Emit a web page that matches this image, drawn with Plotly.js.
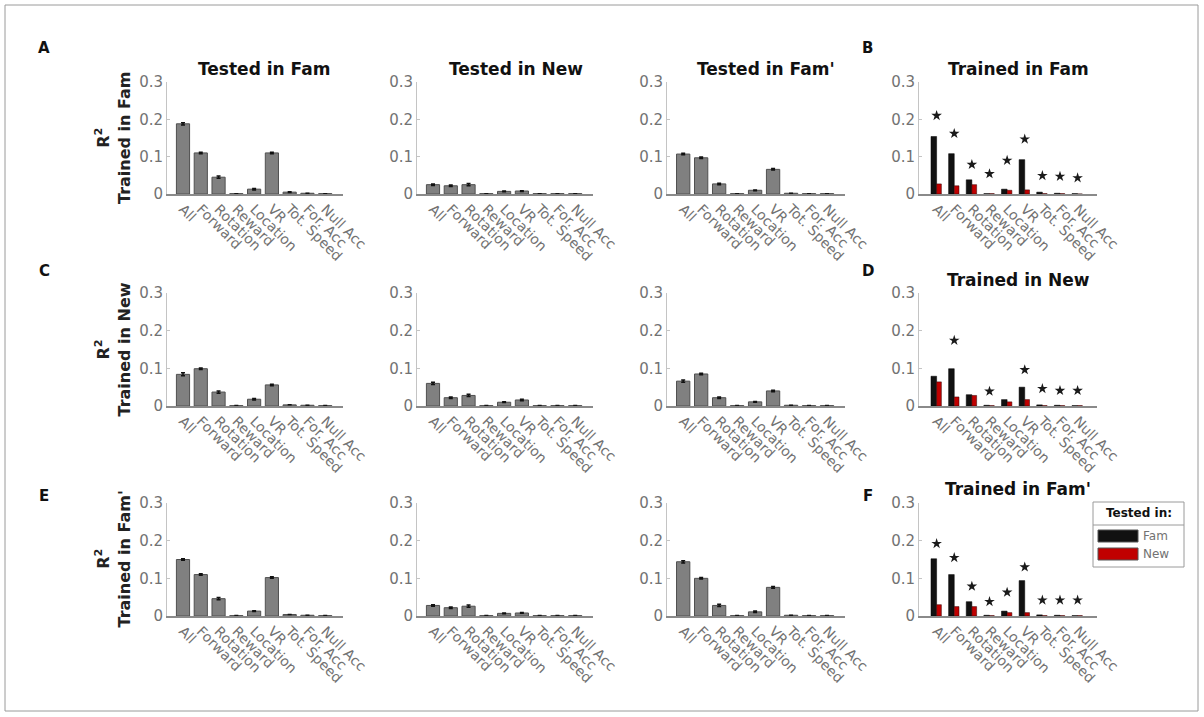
<!DOCTYPE html>
<html>
<head>
<meta charset="utf-8">
<script src="https://cdn.plot.ly/plotly-3.0.1.min.js"></script>
<style>
  html, body { margin: 0; padding: 0; background: #fff; }
  #chart { width: 1204px; height: 717px; }
</style>
</head>
<body>
<div id="chart"></div>
<script>
// Predictor sets used by the encoding models
const predictors = ['All', 'Forward', 'Rotation', 'Reward', 'Location', 'VR', 'Tot. Speed', 'For. Acc', 'Null Acc'];

// R² by training environment (rows) and testing environment (columns)
const trainFam_testFam   = [0.188, 0.110, 0.045, 0.001, 0.013, 0.110, 0.005, 0.002, 0.001];
const trainFam_testNew   = [0.025, 0.022, 0.025, 0.001, 0.007, 0.008, 0.001, 0.001, 0.001];
const trainFam_testFamP  = [0.107, 0.097, 0.027, 0.001, 0.010, 0.066, 0.002, 0.001, 0.001];
const trainNew_testFam   = [0.084, 0.099, 0.037, 0.001, 0.018, 0.056, 0.003, 0.002, 0.001];
const trainNew_testNew   = [0.060, 0.022, 0.028, 0.001, 0.010, 0.016, 0.001, 0.001, 0.001];
const trainNew_testFamP  = [0.066, 0.085, 0.022, 0.001, 0.011, 0.040, 0.002, 0.001, 0.001];
const trainFamP_testFam  = [0.150, 0.110, 0.046, 0.001, 0.013, 0.102, 0.004, 0.002, 0.001];
const trainFamP_testNew  = [0.028, 0.022, 0.026, 0.001, 0.007, 0.008, 0.001, 0.001, 0.001];
const trainFamP_testFamP = [0.144, 0.100, 0.028, 0.001, 0.011, 0.076, 0.002, 0.001, 0.001];

// Standard errors for the grey bars
const semFam_Fam   = [0.003, 0.002, 0.003, 0.000, 0.002, 0.002, 0.001, 0.000, 0.000];
const semFam_New   = [0.002, 0.002, 0.003, 0.000, 0.001, 0.001, 0.000, 0.000, 0.000];
const semFam_FamP  = [0.002, 0.002, 0.002, 0.000, 0.001, 0.002, 0.000, 0.000, 0.000];
const semNew_Fam   = [0.004, 0.002, 0.003, 0.000, 0.002, 0.002, 0.000, 0.000, 0.000];
const semNew_New   = [0.003, 0.002, 0.003, 0.000, 0.001, 0.002, 0.000, 0.000, 0.000];
const semNew_FamP  = [0.003, 0.002, 0.002, 0.000, 0.001, 0.002, 0.000, 0.000, 0.000];
const semFamP_Fam  = [0.002, 0.002, 0.003, 0.000, 0.001, 0.002, 0.000, 0.000, 0.000];
const semFamP_New  = [0.002, 0.002, 0.003, 0.000, 0.001, 0.001, 0.000, 0.000, 0.000];
const semFamP_FamP = [0.003, 0.002, 0.003, 0.000, 0.002, 0.002, 0.000, 0.000, 0.000];

// Comparison panels: tested in Fam (black) vs tested in New (red)
const cmpFam_testFam  = [0.154, 0.108, 0.038, 0.001, 0.013, 0.092, 0.005, 0.002, 0.001];
const cmpFam_testNew  = [0.027, 0.022, 0.025, 0.001, 0.010, 0.011, 0.001, 0.001, 0.000];
const cmpNew_testFam  = [0.079, 0.099, 0.030, 0.002, 0.017, 0.050, 0.003, 0.002, 0.001];
const cmpNew_testNew  = [0.064, 0.024, 0.028, 0.001, 0.011, 0.017, 0.001, 0.001, 0.001];
const cmpFamP_testFam = [0.152, 0.110, 0.038, 0.002, 0.013, 0.094, 0.003, 0.002, 0.001];
const cmpFamP_testNew = [0.030, 0.025, 0.025, 0.001, 0.009, 0.009, 0.001, 0.001, 0.001];

// Significance stars (predictor and height)
const starsFam_x  = ['All', 'Forward', 'Rotation', 'Reward', 'Location', 'VR', 'Tot. Speed', 'For. Acc', 'Null Acc'];
const starsFam_y  = [0.210, 0.162, 0.079, 0.054, 0.090, 0.147, 0.049, 0.047, 0.043];
const starsNew_x  = ['Forward', 'Reward', 'VR', 'Tot. Speed', 'For. Acc', 'Null Acc'];
const starsNew_y  = [0.174, 0.039, 0.096, 0.046, 0.041, 0.041];
const starsFamP_x = ['All', 'Forward', 'Rotation', 'Reward', 'Location', 'VR', 'Tot. Speed', 'For. Acc', 'Null Acc'];
const starsFamP_y = [0.192, 0.155, 0.079, 0.038, 0.063, 0.130, 0.042, 0.042, 0.042];

const yTicks = [0, 0.1, 0.2, 0.3];
const yTickText = ['0', '0.1', '0.2', '0.3'];

const colTitles = ['Tested in Fam', 'Tested in New', "Tested in Fam'"];
const rowTitles = ['Trained in Fam', 'Trained in New', "Trained in Fam'"];
const panelLetters = [['A', 'B'], ['C', 'D'], ['E', 'F']];
const legendTitle = 'Tested in:';
const legendNames = ['Fam', 'New'];

// ---- drawing ----
const W = 1204, H = 717;
const fx = px => px / W;
const fy = py => 1 - py / H;

const colPx = [[167, 343], [417, 593], [667, 845], [919, 1097]];
const rowPx = [[82, 194], [293, 406], [503, 616]];

const FONT = 'DejaVu Sans, Verdana, sans-serif';
const GREY_TXT = '#727272';

const greyData = [
  [trainFam_testFam, trainFam_testNew, trainFam_testFamP],
  [trainNew_testFam, trainNew_testNew, trainNew_testFamP],
  [trainFamP_testFam, trainFamP_testNew, trainFamP_testFamP]
];
const greySem = [
  [semFam_Fam, semFam_New, semFam_FamP],
  [semNew_Fam, semNew_New, semNew_FamP],
  [semFamP_Fam, semFamP_New, semFamP_FamP]
];
const cmpData = [
  [cmpFam_testFam, cmpFam_testNew],
  [cmpNew_testFam, cmpNew_testNew],
  [cmpFamP_testFam, cmpFamP_testNew]
];
const starData = [
  [starsFam_x, starsFam_y],
  [starsNew_x, starsNew_y],
  [starsFamP_x, starsFamP_y]
];

const traces = [];
const layout = {
  width: W, height: H,
  margin: {l: 0, r: 0, t: 0, b: 0},
  paper_bgcolor: '#ffffff',
  plot_bgcolor: 'rgba(0,0,0,0)',
  showlegend: false,
  barmode: 'overlay',
  font: {family: FONT, color: GREY_TXT},
  annotations: [],
  shapes: []
};

function axName(n, letter) { return letter + (n === 1 ? '' : n); }

for (let r = 0; r < 3; r++) {
  for (let c = 0; c < 4; c++) {
    const n = r * 4 + c + 1;
    const xa = axName(n, 'x'), ya = axName(n, 'y');
    layout[axName(n, 'xaxis')] = {
      domain: [fx(colPx[c][0]), fx(colPx[c][1])],
      anchor: ya,
      type: 'category',
      categoryorder: 'array',
      categoryarray: predictors,
      range: c === 3 ? [-1.0, 9.1] : [-0.9, 9.0],
      showline: true, linecolor: '#8a8a8a', linewidth: 1.5,
      ticks: '', showgrid: false, zeroline: false,
      tickangle: 45,
      tickfont: {family: FONT, size: 14, color: GREY_TXT},
      fixedrange: true
    };
    layout[axName(n, 'yaxis')] = {
      domain: [fy(rowPx[r][1]), fy(rowPx[r][0])],
      anchor: xa,
      range: [0, 0.3],
      tickvals: yTicks, ticktext: yTickText,
      showline: true, linecolor: '#c4c4c4', linewidth: 1,
      ticks: 'inside', ticklen: 3, tickcolor: '#c4c4c4',
      showgrid: false, zeroline: false,
      tickfont: {family: FONT, size: 15, color: GREY_TXT},
      fixedrange: true
    };

    if (c < 3) {
      traces.push({
        type: 'bar', x: predictors, y: greyData[r][c],
        xaxis: xa, yaxis: ya, width: 0.74,
        marker: {color: '#808080', line: {color: '#505050', width: 1}},
        error_y: {type: 'data', array: greySem[r][c], color: '#111', thickness: 1.5, width: 2}
      });
    } else {
      traces.push({
        type: 'bar', x: predictors, y: cmpData[r][0],
        xaxis: xa, yaxis: ya, width: 0.32, offset: -0.32,
        marker: {color: '#111111', line: {color: '#000', width: 0.5}}
      });
      traces.push({
        type: 'bar', x: predictors, y: cmpData[r][1],
        xaxis: xa, yaxis: ya, width: 0.27, offset: 0,
        marker: {color: '#c00000', line: {color: '#300', width: 0.5}}
      });
      traces.push({
        type: 'scatter', mode: 'markers', x: starData[r][0], y: starData[r][1],
        xaxis: xa, yaxis: ya, cliponaxis: false,
        marker: {symbol: 'star', size: 8, color: '#1a1a1a', line: {width: 0}}
      });
    }
  }
}

// Column titles (top row) and comparison-panel titles
const titleX = [264, 516, 766];
colTitles.forEach((t, i) => {
  layout.annotations.push({
    xref: 'paper', yref: 'paper', x: fx(titleX[i]), y: fy(69),
    xanchor: 'center', yanchor: 'middle', showarrow: false,
    text: '<b>' + t + '</b>', font: {family: FONT, size: 17, color: '#111'}
  });
});
const rowTitleY = [69, 280, 489];
rowTitles.forEach((t, i) => {
  layout.annotations.push({
    xref: 'paper', yref: 'paper', x: fx(1018), y: fy(rowTitleY[i]),
    xanchor: 'center', yanchor: 'middle', showarrow: false,
    text: '<b>' + t + '</b>', font: {family: FONT, size: 17, color: '#111'}
  });
  // y-axis title of the first column
  layout.annotations.push({
    xref: 'paper', yref: 'paper', x: fx(113), y: fy((rowPx[i][0] + rowPx[i][1]) / 2),
    xanchor: 'center', yanchor: 'middle', showarrow: false, textangle: -90,
    text: '<b>R<sup>2</sup></b><br><b>' + t + '</b>',
    font: {family: FONT, size: 16, color: '#222'}
  });
});

// Panel letters
const letterY = [48, 271, 496];
const letterX = [44, 868];
panelLetters.forEach((pair, r) => {
  pair.forEach((L, k) => {
    layout.annotations.push({
      xref: 'paper', yref: 'paper', x: fx(letterX[k]), y: fy(letterY[r]),
      xanchor: 'center', yanchor: 'middle', showarrow: false,
      text: '<b>' + L + '</b>', font: {family: FONT, size: 15, color: '#111'}
    });
  });
});

// Key for the comparison panels
const key = {l: 1093, r: 1184, t: 502, head: 525, b: 567};
layout.shapes.push(
  {type: 'rect', xref: 'paper', yref: 'paper', x0: fx(key.l), x1: fx(key.r), y0: fy(key.b), y1: fy(key.t),
   line: {color: '#9a9a9a', width: 1}, fillcolor: '#ffffff'},
  {type: 'line', xref: 'paper', yref: 'paper', x0: fx(key.l), x1: fx(key.r), y0: fy(key.head), y1: fy(key.head),
   line: {color: '#9a9a9a', width: 1}},
  {type: 'rect', xref: 'paper', yref: 'paper', x0: fx(1098), x1: fx(1138), y0: fy(542), y1: fy(530),
   line: {color: '#555', width: 1}, fillcolor: '#111111'},
  {type: 'rect', xref: 'paper', yref: 'paper', x0: fx(1098), x1: fx(1138), y0: fy(560), y1: fy(548),
   line: {color: '#555', width: 1}, fillcolor: '#c00000'},
  // outer frame
  {type: 'rect', xref: 'paper', yref: 'paper', x0: fx(5), x1: fx(1198), y0: fy(711), y1: fy(5),
   line: {color: '#9a9a9a', width: 1}}
);
layout.annotations.push(
  {xref: 'paper', yref: 'paper', x: fx((key.l + key.r) / 2), y: fy(513), xanchor: 'center', yanchor: 'middle',
   showarrow: false, text: '<b>' + legendTitle + '</b>', font: {family: FONT, size: 12, color: '#111'}},
  {xref: 'paper', yref: 'paper', x: fx(1141), y: fy(536), xanchor: 'left', yanchor: 'middle',
   showarrow: false, text: legendNames[0], font: {family: FONT, size: 12, color: GREY_TXT}},
  {xref: 'paper', yref: 'paper', x: fx(1141), y: fy(554), xanchor: 'left', yanchor: 'middle',
   showarrow: false, text: legendNames[1], font: {family: FONT, size: 12, color: GREY_TXT}}
);

Plotly.newPlot('chart', traces, layout, {staticPlot: true, displayModeBar: false});
</script>
</body>
</html>
